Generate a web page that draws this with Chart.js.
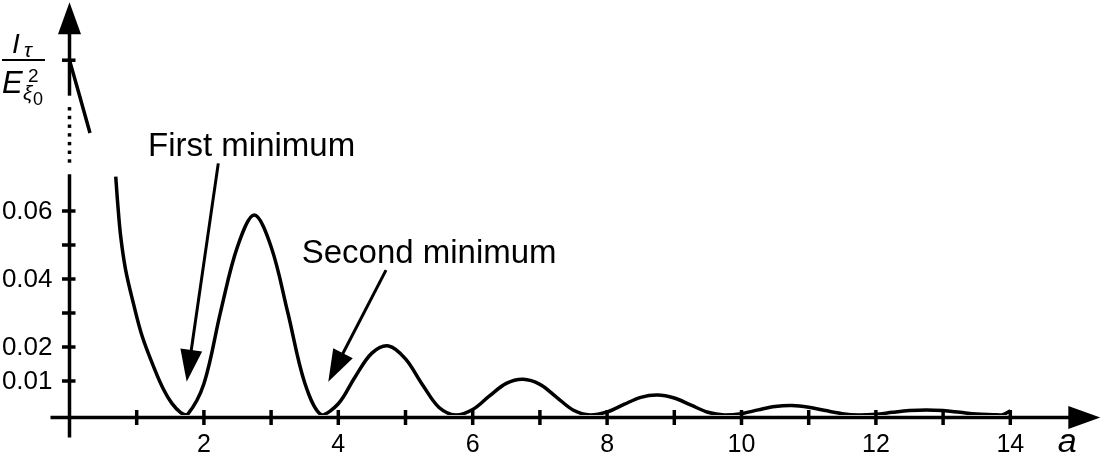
<!DOCTYPE html>
<html>
<head>
<meta charset="utf-8">
<script src="https://cdn.jsdelivr.net/npm/chart.js@4/dist/chart.umd.min.js"></script>
<style>
html,body{margin:0;padding:0;background:#fff;}
canvas{display:block;}
</style>
</head>
<body>
<canvas id="c" width="1103" height="453"></canvas>
<script>
// Upper (broken-axis) part of the curve, near a = 0
const topA = [0.0, 0.15, 0.305];
const topI = [1.0, 0.9, 0.795];

// Main curve I_tau / E^2 versus a
const lowA = [0.688, 0.717, 0.762, 0.836, 0.95, 1.084, 1.272, 1.40, 1.521, 1.65, 1.75,
  2.0, 2.25, 2.5, 2.75, 3.0, 3.25, 3.5, 3.75,
  4.0, 4.25, 4.5, 4.75, 5.0, 5.25, 5.5, 5.75,
  6.0, 6.25, 6.5, 6.75, 7.0, 7.25, 7.5, 7.75,
  8.0, 8.25, 8.5, 8.75, 9.0, 9.25, 9.5, 9.75,
  10.0, 10.25, 10.5, 10.75, 11.0, 11.25, 11.5, 11.75,
  12.0, 12.25, 12.5, 12.75, 13.0, 13.25, 13.5, 13.75, 13.875, 14.0];
const lowI = [0.0701, 0.0623, 0.0525, 0.0426, 0.0329, 0.0230, 0.0132, 0.0075, 0.0035, 0.0008, 0.0,
  0.0092, 0.0305, 0.0495, 0.0588, 0.0495, 0.0300, 0.0095, 0.0,
  0.0033, 0.0112, 0.0182, 0.0203, 0.0165, 0.0090, 0.0022, 0.0,
  0.0016, 0.0056, 0.0093, 0.0105, 0.0090, 0.0052, 0.0014, 0.0,
  0.0009, 0.0031, 0.0052, 0.0059, 0.0050, 0.0029, 0.0008, 0.0,
  0.0004, 0.0015, 0.0025, 0.0028, 0.0023, 0.0013, 0.0004, 0.0,
  0.0002, 0.0008, 0.0013, 0.0015, 0.0013, 0.0008, 0.0003, 0.0001, 0.0, 0.0012];

// Axis ticks and labels
const xTickValues = [1,2,3,4,5,6,7,8,9,10,11,12,13,14];
const xTickLabels = [2,4,6,8,10,12,14];
const yTickValues = [0.01,0.02,0.03,0.04,0.05,0.06];
const yTickLabels = ['0.01','0.02','0.04','0.06'];
const yTopTick = 1.0;

const FONT = "'Liberation Sans', Arial, Helvetica, sans-serif";

function arrowHead(ctx, fx, fy, tx, ty, len, hw) {
  const dx = tx - fx, dy = ty - fy;
  const d = Math.hypot(dx, dy);
  const ux = dx / d, uy = dy / d;
  const bx = tx - ux * len, by = ty - uy * len;
  ctx.beginPath();
  ctx.moveTo(tx, ty);
  ctx.lineTo(bx - uy * hw, by + ux * hw);
  ctx.lineTo(bx + uy * hw, by - ux * hw);
  ctx.closePath();
  ctx.fill();
}

function annotatedArrow(ctx, sx, sy, tx, ty) {
  const dx = tx - sx, dy = ty - sy, d = Math.hypot(dx, dy);
  ctx.beginPath();
  ctx.moveTo(sx, sy);
  ctx.lineTo(tx - dx / d * 30, ty - dy / d * 30);
  ctx.stroke();
  arrowHead(ctx, sx, sy, tx, ty, 32, 11);
}

const axesPlugin = {
  id: 'axesPlugin',
  afterDatasetsDraw(chart) {
    const ctx = chart.ctx;
    const xs = chart.scales.x, ys = chart.scales.y, yt = chart.scales.yTop;
    const x0 = xs.getPixelForValue(0);
    const y0 = ys.getPixelForValue(0);
    const axisY = y0 + 2.5;
    ctx.save();
    ctx.strokeStyle = '#000';
    ctx.fillStyle = '#000';
    ctx.lineWidth = 3.5;
    ctx.lineCap = 'butt';

    // x axis
    const xEnd = xs.right + 90;
    ctx.beginPath();
    ctx.moveTo(x0 - 19, axisY);
    ctx.lineTo(xEnd - 30, axisY);
    ctx.stroke();
    arrowHead(ctx, x0, axisY, xEnd, axisY, 32, 11.5);

    // x ticks
    xTickValues.forEach(v => {
      const px = xs.getPixelForValue(v);
      ctx.beginPath();
      ctx.moveTo(px, axisY - 7.5);
      ctx.lineTo(px, axisY + 7.5);
      ctx.stroke();
    });
    ctx.font = '25px ' + FONT;
    ctx.textAlign = 'center';
    ctx.textBaseline = 'alphabetic';
    xTickLabels.forEach(v => {
      ctx.fillText(String(v), xs.getPixelForValue(v), axisY + 34);
    });
    ctx.font = 'italic 34px ' + FONT;
    ctx.fillText('a', xs.right + 57, axisY + 34);

    // y axis (lower solid part)
    ctx.beginPath();
    ctx.moveTo(x0, axisY + 20);
    ctx.lineTo(x0, ys.getPixelForValue(0.0708));
    ctx.stroke();
    // dotted break
    const dTop = yt.getPixelForValue(0.88) + 6;
    const dBot = ys.getPixelForValue(0.0708) - 10;
    for (let py = dTop; py <= dBot + 0.5; py += 8.7) {
      ctx.fillRect(x0 - 1.75, py - 1.7, 3.5, 3.4);
    }
    // upper solid part
    const yArrowTip = yt.getPixelForValue(1.0) - 58;
    ctx.beginPath();
    ctx.moveTo(x0, yt.getPixelForValue(0.9));
    ctx.lineTo(x0, yArrowTip + 30);
    ctx.stroke();
    arrowHead(ctx, x0, 200, x0, yArrowTip, 32, 11.5);
    // top tick
    const tpy = yt.getPixelForValue(yTopTick);
    ctx.beginPath();
    ctx.moveTo(x0 - 7.5, tpy);
    ctx.lineTo(x0 + 6, tpy);
    ctx.stroke();

    // y ticks
    yTickValues.forEach(v => {
      const py = ys.getPixelForValue(v);
      ctx.beginPath();
      ctx.moveTo(x0 - 7.5, py);
      ctx.lineTo(x0 + 6, py);
      ctx.stroke();
    });
    ctx.font = '26px ' + FONT;
    ctx.textAlign = 'right';
    ctx.textBaseline = 'middle';
    yTickLabels.forEach(s => {
      ctx.fillText(s, x0 - 17, ys.getPixelForValue(parseFloat(s)) + 1);
    });

    // y axis title: I_tau / E_xi0^2
    ctx.textAlign = 'left';
    ctx.textBaseline = 'alphabetic';
    ctx.font = 'italic 28px ' + FONT;
    ctx.fillText('I', 12, 53);
    ctx.font = 'italic 21px ' + FONT;
    ctx.fillText('τ', 24, 57);
    ctx.fillRect(2, 59, 43, 2);
    ctx.font = 'italic 31px ' + FONT;
    ctx.fillText('E', 2, 93);
    ctx.font = '19px ' + FONT;
    ctx.fillText('2', 28, 82);
    ctx.font = 'italic 21px ' + FONT;
    ctx.fillText('ξ', 23, 100);
    ctx.font = '18px ' + FONT;
    ctx.fillText('0', 33, 105);

    // annotations
    ctx.font = '33px ' + FONT;
    ctx.fillText('First minimum', xs.getPixelForValue(1.168), ys.getPixelForValue(0.0762));
    ctx.fillText('Second minimum', xs.getPixelForValue(3.455), ys.getPixelForValue(0.0446));
    ctx.lineWidth = 3;
    annotatedArrow(ctx, xs.getPixelForValue(2.214), ys.getPixelForValue(0.0740),
                        xs.getPixelForValue(1.744), ys.getPixelForValue(0.0098));
    annotatedArrow(ctx, xs.getPixelForValue(4.71), ys.getPixelForValue(0.0426),
                        xs.getPixelForValue(3.851), ys.getPixelForValue(0.0098));
    ctx.restore();
  }
};

new Chart(document.getElementById('c'), {
  type: 'line',
  data: {
    datasets: [
      {
        data: topA.map((a, i) => ({x: a, y: topI[i]})),
        yAxisID: 'yTop',
        borderColor: '#000',
        borderWidth: 3.5,
        pointRadius: 0,
        tension: 0,
        fill: false
      },
      {
        data: lowA.map((a, i) => ({x: a, y: lowI[i]})),
        yAxisID: 'y',
        borderColor: '#000',
        borderWidth: 3.5,
        pointRadius: 0,
        tension: 0.35,
        fill: false
      }
    ]
  },
  options: {
    responsive: false,
    animation: false,
    devicePixelRatio: 1,
    layout: { padding: { left: 69.5, right: 92.7, top: 7, bottom: 38 } },
    plugins: { legend: { display: false }, tooltip: { enabled: false } },
    scales: {
      x: { type: 'linear', min: 0, max: 14, display: false },
      y: { type: 'linear', min: 0, max: 0.12, display: false },
      yTop: { type: 'linear', min: 0, max: 1.15, display: false }
    }
  },
  plugins: [axesPlugin]
});
</script>
</body>
</html>
